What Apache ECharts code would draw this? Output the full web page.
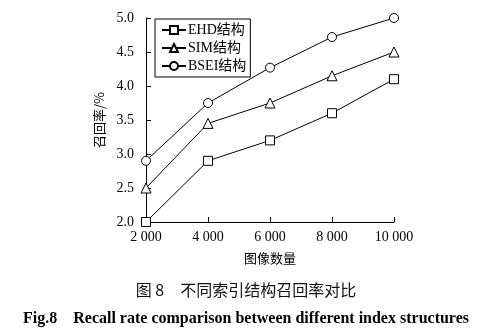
<!DOCTYPE html>
<html><head><meta charset="utf-8">
<script src="https://cdn.jsdelivr.net/npm/echarts@6/dist/echarts.min.js"></script>
<style>html,body{margin:0;padding:0;background:#fff;}#c{width:492px;height:330px;}</style>
</head><body><div id="c"></div>
<script>
const xValues = [2000, 4000, 6000, 8000, 10000];
const ehd = [2.0, 2.9, 3.2, 3.6, 4.1];
const sim = [2.5, 3.45, 3.75, 4.15, 4.5];
const bsei = [2.9, 3.75, 4.27, 4.72, 5.0];
const seriesNames = ['EHD结构', 'SIM结构', 'BSEI结构'];
const xName = '图像数量';
const yName = '召回率/%';
const captionCn = '图 8　不同索引结构召回率对比';
const captionEn = 'Fig.8    Recall rate comparison between different index structures';

const serif = '"Liberation Serif","DejaVu Serif",serif';
const chart = echarts.init(document.getElementById('c'), null, {renderer: 'canvas'});
function mk(name, vals, sym) {
  return {
    name, type: 'line', data: xValues.map((x, i) => [x, vals[i]]),
    symbol: sym, symbolSize: sym === 'triangle' ? 10 : 9,
    showAllSymbol: true,
    lineStyle: {color: '#000', width: 1},
    itemStyle: {color: '#fff', borderColor: '#000', borderWidth: 1},
    emphasis: {disabled: true}, animation: false, z: 3
  };
}
chart.setOption({
  backgroundColor: '#fff',
  animation: false,
  title: [
    {text: captionCn, left: 'center', top: 277, textStyle: {fontFamily: '"Noto Sans CJK SC"', fontSize: 16, fontWeight: 'normal', color: '#111'}},
    {text: captionEn, left: 'center', top: 306, textStyle: {fontFamily: serif, fontSize: 16, fontWeight: 'bold', color: '#000'}}
  ],
  grid: {left: 146, right: 98, top: 18, bottom: 108, containLabel: false},
  legend: {
    data: seriesNames,
    orient: 'vertical', left: 155, top: 19,
    itemWidth: 24, itemHeight: 10, itemGap: 4,
    padding: [4, 4, 4, 6],
    borderColor: '#000', borderWidth: 1,
    textStyle: {fontFamily: serif + ',"Noto Sans CJK SC"', fontSize: 14, color: '#000', padding: [0, 0, 0, -3]},
    selectedMode: false
  },
  xAxis: {
    type: 'value', min: 2000, max: 10000, interval: 2000,
    name: xName, nameLocation: 'middle', nameGap: 30,
    nameTextStyle: {fontFamily: '"Noto Sans CJK SC"', fontSize: 13, color: '#000'},
    axisLine: {lineStyle: {color: '#000', width: 1}},
    axisTick: {inside: true, length: 5, lineStyle: {color: '#000'}},
    axisLabel: {fontFamily: serif, fontSize: 14, color: '#000', margin: 8,
      formatter: v => String(v).replace(/(\d)(?=(\d{3})+$)/g, '$1 ')},
    splitLine: {show: false}
  },
  yAxis: {
    type: 'value', min: 2.0, max: 5.0, interval: 0.5,
    name: yName, nameLocation: 'middle', nameGap: 38, nameRotate: 90,
    nameTextStyle: {fontFamily: '"Noto Sans CJK SC"', fontSize: 13, color: '#000'},
    axisLine: {show: true, lineStyle: {color: '#000', width: 1}},
    axisTick: {show: true, inside: true, length: 5, lineStyle: {color: '#000'}},
    axisLabel: {fontFamily: serif, fontSize: 14, color: '#000', margin: 12, formatter: v => v.toFixed(1)},
    splitLine: {show: false}
  },
  series: [mk(seriesNames[0], ehd, 'rect'), mk(seriesNames[1], sim, 'triangle'), mk(seriesNames[2], bsei, 'circle')]
});
</script></body></html>
